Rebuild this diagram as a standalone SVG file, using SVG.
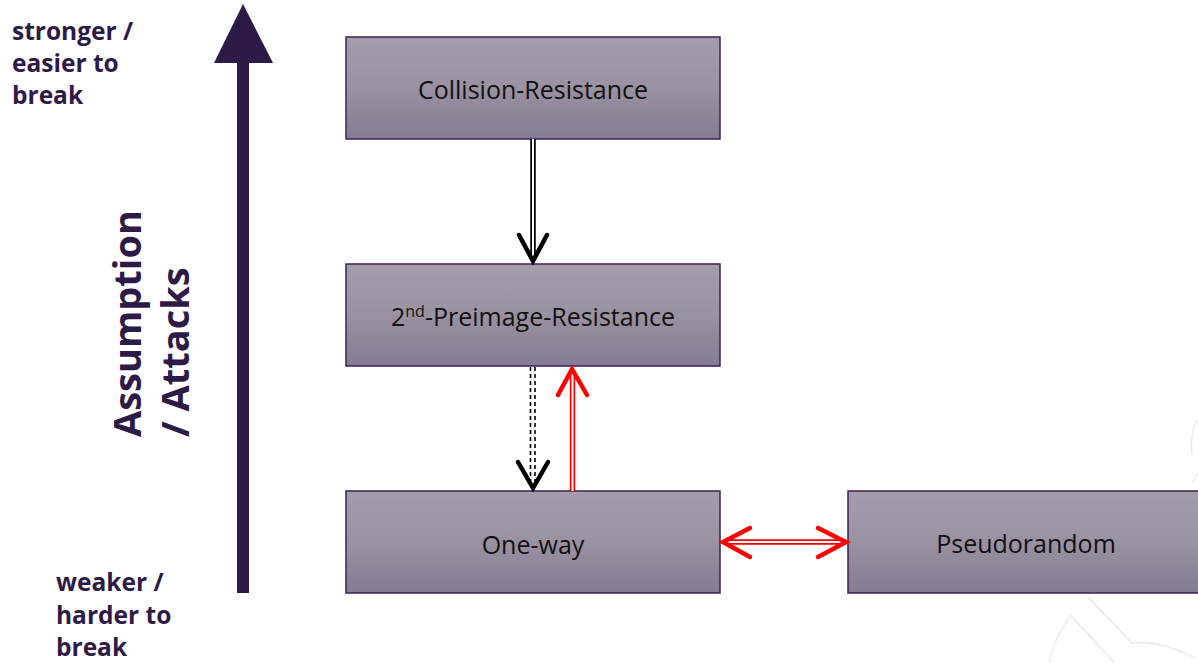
<svg xmlns="http://www.w3.org/2000/svg" width="1198" height="663" viewBox="0 0 1198 663">
  <defs>
    <linearGradient id="boxFill" x1="0" y1="0" x2="0" y2="1">
      <stop offset="0" stop-color="#a59dab"/>
      <stop offset="0.5" stop-color="#9a91a2"/>
      <stop offset="1" stop-color="#857b93"/>
    </linearGradient>
    <style>
      .box { fill: url(#boxFill); stroke: #3d2157; stroke-width: 1.5; }
      .label { font-family: "Open Sans", "Noto Sans", sans-serif; font-size: 25px; fill: #111; text-anchor: middle; }
      .side { font-family: "Open Sans", "Noto Sans", sans-serif; font-size: 24.5px; font-weight: bold; fill: #2e1a47; }
      .axis { font-family: "Open Sans", "Noto Sans", sans-serif; font-size: 38px; font-weight: bold; fill: #2e1a47; }
      .dbl-out { fill: none; stroke-width: 5.5; }
      .dbl-in { fill: none; stroke: #fff; stroke-width: 2; }
      .chev { fill: none; stroke-width: 4.5; stroke-linecap: round; stroke-linejoin: miter; }
      .wm { fill: none; stroke: #e6e6e6; stroke-width: 1.2; }
    </style>
  </defs>

  <rect width="1198" height="663" fill="#fff"/>

  <!-- faint background outline, lower right -->
  <g id="watermark">
    <path class="wm" d="M1088 597 L1132 643 Q1160 640 1193 657"/>
    <path class="wm" d="M1070 615 L1115 663"/>
    <path class="wm" d="M1070 617 Q1054 638 1049 663"/>
    <path class="wm" d="M1198 420 Q1190 428 1192 455"/>
    <path class="wm" d="M1192 482 L1198 474"/>
  </g>

  <!-- vertical scale arrow -->
  <g id="scale-arrow">
    <rect x="237" y="60" width="12" height="533" fill="#2e1a47"/>
    <polygon points="243,4 214,63 273,63" fill="#2e1a47"/>
  </g>

  <g id="scale-top">
    <text class="side" x="12" y="40">stronger /</text>
    <text class="side" x="12" y="72">easier to</text>
    <text class="side" x="12" y="104">break</text>
  </g>
  <g id="scale-bottom">
    <text class="side" x="56" y="591">weaker /</text>
    <text class="side" x="56" y="624">harder to</text>
    <text class="side" x="56" y="656">break</text>
  </g>
  <g id="scale-title">
    <text class="axis" transform="translate(141,437) rotate(-90)">Assumption</text>
    <text class="axis" transform="translate(189,437) rotate(-90)">/ Attacks</text>
  </g>

  <!-- property boxes -->
  <g id="collision">
    <rect class="box" x="346" y="37" width="374" height="102"/>
    <text class="label" x="533" y="99">Collision-Resistance</text>
  </g>
  <g id="second-preimage">
    <rect class="box" x="346" y="264" width="374" height="102"/>
    <text class="label" x="533" y="326">2<tspan font-size="16" dy="-9">nd</tspan><tspan dy="9">-Preimage-Resistance</tspan></text>
  </g>
  <g id="one-way">
    <rect class="box" x="346" y="491" width="374" height="102"/>
    <text class="label" x="533" y="554">One-way</text>
  </g>
  <g id="pseudorandom">
    <rect class="box" x="848" y="491" width="360" height="102"/>
    <text class="label" x="1026" y="553">Pseudorandom</text>
  </g>

  <!-- implications -->
  <g id="connectors">
    <!-- collision => 2nd preimage -->
    <line class="dbl-out" stroke="#000" x1="533" y1="139" x2="533" y2="259"/>
    <line class="dbl-in" x1="533" y1="139" x2="533" y2="258"/>
    <polyline class="chev" stroke="#000" points="519,235 533,261 547,235"/>

    <!-- 2nd preimage => one-way (dashed) -->
    <line fill="none" stroke="#000" stroke-width="1.6" stroke-dasharray="4 3" x1="530.5" y1="367" x2="530.5" y2="486"/>
    <line fill="none" stroke="#000" stroke-width="1.6" stroke-dasharray="4 3" x1="535" y1="367" x2="535" y2="486"/>
    <polyline class="chev" stroke="#000" points="518,462 533,488 548,462"/>

    <!-- one-way => 2nd preimage (red) -->
    <line class="dbl-out" stroke="#ff0000" x1="572.5" y1="491" x2="572.5" y2="371"/>
    <line class="dbl-in" x1="572.5" y1="491" x2="572.5" y2="372"/>
    <polyline class="chev" stroke="#ff0000" points="558,395 572,369 587,395"/>

    <!-- one-way <=> pseudorandom (red) -->
    <line class="dbl-out" stroke="#ff0000" x1="726" y1="542" x2="843" y2="542"/>
    <line class="dbl-in" x1="727" y1="542" x2="842" y2="542"/>
    <polyline class="chev" stroke="#ff0000" points="750,528 723,542 750,557"/>
    <polyline class="chev" stroke="#ff0000" points="818,528 846,542 818,557"/>
  </g>
</svg>
